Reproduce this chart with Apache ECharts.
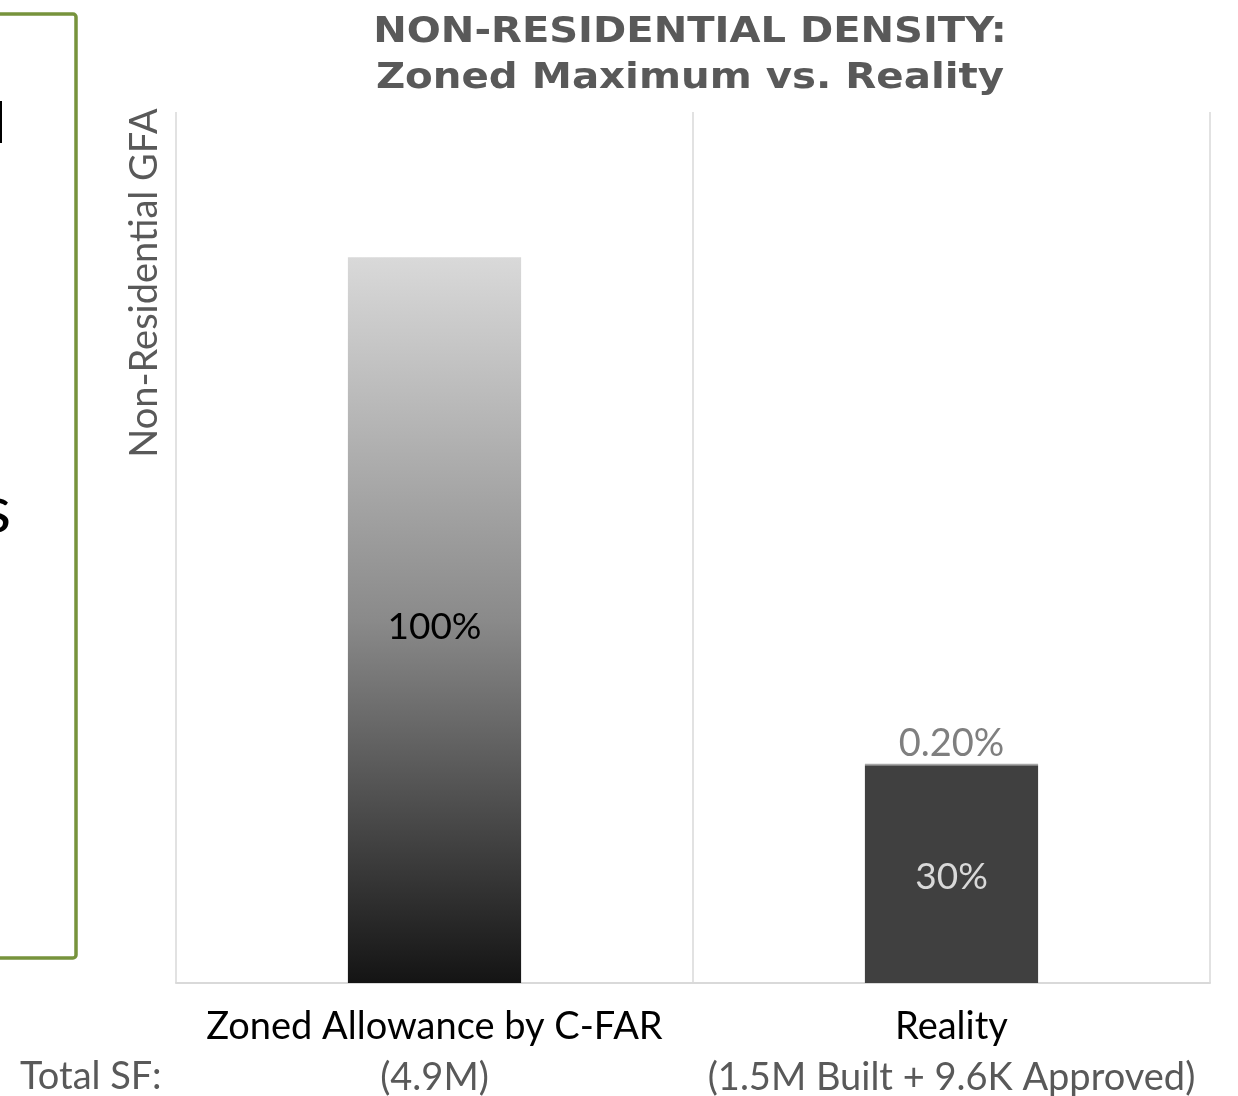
<!DOCTYPE html>
<html><head><meta charset="utf-8">
<script src="https://cdn.jsdelivr.net/npm/echarts@6/dist/echarts.min.js"></script>
<style>html,body{margin:0;padding:0;background:#fff}#c{width:1238px;height:1096px}</style>
</head><body><div id="c"></div>
<script>
var titleLines = ['NON-RESIDENTIAL DENSITY:', 'Zoned Maximum vs. Reality'];
var categories = ['Zoned Allowance by C-FAR', 'Reality'];
var totals = ['(4.9M)', '(1.5M Built + 9.6K Approved)'];
var mainValues = [100, 30];
var mainLabels = ['100%', '30%'];
var topValues = ['-', 0.2];
var topLabels = ['', '0.20%'];
var FONT = 'Lato';

var chart = echarts.init(document.getElementById('c'));
chart.setOption({
  animation: false,
  textStyle: { fontFamily: FONT },
  grid: { left: 176, right: 28, top: 112, bottom: 113, outerBoundsMode: 'none' },
  xAxis: {
    type: 'category', data: categories,
    axisLine: { show: true, lineStyle: { color: '#d9d9d9', width: 2 } },
    axisTick: { show: false },
    splitLine: { show: true, lineStyle: { color: '#d9d9d9', width: 1.5 } },
    axisLabel: {
      margin: 18, interval: 0,
      formatter: function (v, i) { return '{a|' + v + '}\n{b|' + totals[i] + '}'; },
      rich: {
        a: { fontFamily: FONT, fontSize: 38, color: '#000', lineHeight: 51 },
        b: { fontFamily: FONT, fontSize: 38, color: '#595959', lineHeight: 51 }
      }
    }
  },
  yAxis: { type: 'value', min: 0, max: 120, show: false, splitLine: { show: false } },
  series: [
    {
      type: 'bar', stack: 's', barWidth: '33.5%',
      data: mainValues.map(function (v, i) {
        return {
          value: v,
          itemStyle: { color: i === 0 ? new echarts.graphic.LinearGradient(0, 0, 0, 1, [
            { offset: 0, color: '#d9d9d9' }, { offset: 0.5, color: '#8a8a8a' }, { offset: 1, color: '#141414' }]) : '#404040' },
          label: { color: i === 0 ? '#000' : '#d9d9d9', offset: [0, i === 0 ? 7 : 3] }
        };
      }),
      label: { show: true, position: 'inside', fontFamily: FONT, fontSize: 37,
        formatter: function (p) { return mainLabels[p.dataIndex]; } }
    },
    {
      type: 'bar', stack: 's', barWidth: '33.5%',
      data: topValues,
      itemStyle: { color: '#a6a6a6' },
      label: { show: true, position: 'top', distance: 1, fontFamily: FONT, fontSize: 38, color: '#7f7f7f',
        formatter: function (p) { return topLabels[p.dataIndex]; } }
    }
  ],
  graphic: [
    { type: 'text', x: 690, y: 33, scaleX: 1.113,
      style: { text: titleLines[0], align: 'center', verticalAlign: 'middle', fontFamily: 'DejaVu Sans', fontWeight: 'bold', fontSize: 36, fill: '#595959' } },
    { type: 'text', x: 690, y: 79, scaleX: 1.12,
      style: { text: titleLines[1], align: 'center', verticalAlign: 'middle', fontFamily: 'DejaVu Sans', fontWeight: 'bold', fontSize: 36, fill: '#595959' } },
    { type: 'rect', shape: { x: -10, y: 14, width: 86, height: 944, r: 3 },
      style: { fill: 'none', stroke: '#77933c', lineWidth: 3.5 } },
    { type: 'text', x: 6, y: 98, style: { text: 'l', align: 'right', fontFamily: 'Liberation Sans', fontSize: 58, fill: '#000' } },
    { type: 'text', x: 11, y: 478, style: { text: 's', align: 'right', fontFamily: FONT, fontSize: 66, fill: '#000' } },
    { type: 'text', x: 145, y: 283, rotation: Math.PI / 2,
      style: { text: 'Non-Residential GFA', align: 'center', verticalAlign: 'middle', fontFamily: FONT, fontSize: 38, fill: '#595959' } },
    { type: 'text', x: 20, y: 1077, style: { text: 'Total SF:', verticalAlign: 'middle', fontFamily: FONT, fontSize: 38, fill: '#595959' } }
  ]
});
</script></body></html>
